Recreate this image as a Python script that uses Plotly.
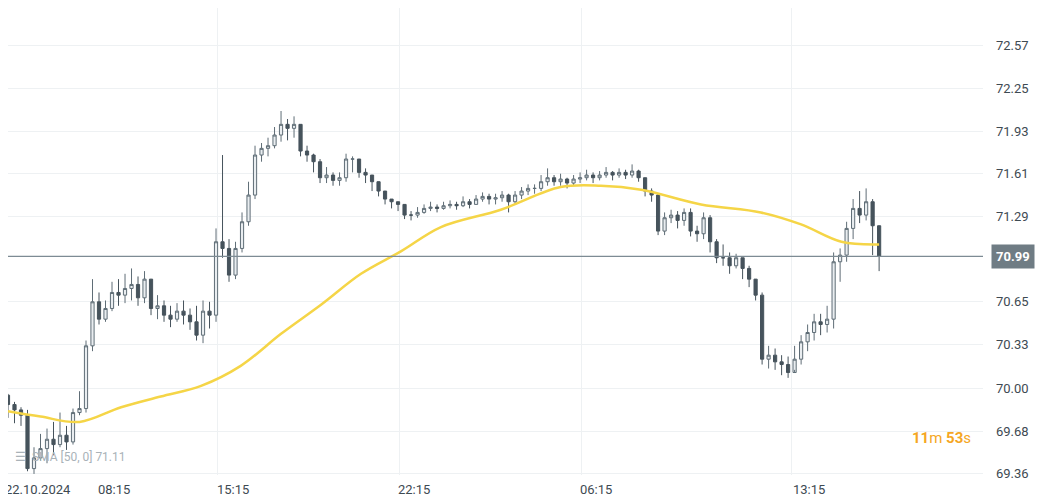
import plotly.graph_objects as go

close = [69.88,69.84,69.80,69.40,69.48,69.55,69.62,69.58,69.65,69.60,
         69.82,69.85,70.32,70.65,70.52,70.60,70.72,70.70,70.75,70.78,
         70.68,70.82,70.60,70.62,70.55,70.52,70.58,70.55,70.50,70.40,
         70.58,70.55,71.10,71.05,70.85,71.05,71.25,71.45,71.75,71.80,
         71.82,71.90,71.98,71.95,71.98,71.78,71.75,71.70,71.58,71.60,
         71.56,71.58,71.72,71.72,71.62,71.60,71.55,71.48,71.42,71.40,
         71.38,71.30,71.30,71.32,71.35,71.36,71.35,71.37,71.38,71.37,
         71.40,71.38,71.42,71.44,71.42,71.43,71.45,71.40,71.45,71.48,
         71.50,71.50,71.55,71.58,71.55,71.57,71.54,71.57,71.58,71.60,
         71.58,71.60,71.62,71.60,71.62,71.60,71.63,71.58,71.48,71.45,
         71.18,71.28,71.30,71.26,71.32,71.18,71.16,71.28,71.10,70.98,
         70.98,70.92,70.98,70.90,70.82,70.70,70.22,70.25,70.20,70.18,
         70.12,70.22,70.35,70.42,70.50,70.48,70.52,70.95,71.00,71.20,
         71.35,71.30,71.40,71.22,70.99]
first_open = 69.95
high = [69.96,69.90,69.86,69.84,69.56,69.66,69.70,69.75,69.82,69.72,
        69.85,69.98,70.36,70.82,70.72,70.66,70.80,70.82,70.86,70.90,
        70.84,70.88,70.78,70.70,70.66,70.62,70.64,70.66,70.60,70.62,
        70.66,70.65,71.20,71.75,71.12,71.10,71.32,71.55,71.82,71.84,
        71.88,71.96,72.08,72.02,72.04,71.98,71.82,71.76,71.72,71.66,
        71.62,71.62,71.76,71.74,71.68,71.65,71.58,71.52,71.45,71.42,
        71.40,71.36,71.33,71.36,71.38,71.40,71.38,71.40,71.41,71.40,
        71.44,71.42,71.45,71.47,71.46,71.46,71.48,71.46,71.48,71.51,
        71.53,71.53,71.60,71.65,71.60,71.61,71.58,71.60,71.62,71.64,
        71.62,71.63,71.66,71.63,71.65,71.64,71.68,71.64,71.58,71.50,
        71.46,71.32,71.34,71.33,71.35,71.35,71.22,71.32,71.30,71.12,
        71.08,71.02,71.01,70.98,70.92,70.80,70.72,70.32,70.30,70.25,
        70.24,70.32,70.40,70.48,70.56,70.56,70.62,71.02,71.05,71.25,
        71.42,71.48,71.50,71.42,71.20]
low = [69.78,69.74,69.72,69.38,69.36,69.46,69.44,69.50,69.56,69.54,
       69.58,69.80,69.82,70.28,70.48,70.50,70.58,70.62,70.64,70.66,
       70.62,70.64,70.55,70.52,70.50,70.46,70.50,70.48,70.44,70.36,
       70.34,70.45,70.50,70.98,70.80,70.82,71.02,71.22,71.42,71.70,
       71.74,71.80,71.85,71.86,71.88,71.74,71.70,71.62,71.54,71.54,
       71.52,71.52,71.55,71.62,71.58,71.54,71.48,71.44,71.38,71.35,
       71.33,71.27,71.26,71.28,71.31,71.33,71.32,71.34,71.35,71.34,
       71.36,71.35,71.38,71.40,71.38,71.38,71.40,71.32,71.38,71.42,
       71.45,71.46,71.48,71.52,71.52,71.52,71.50,71.52,71.54,71.56,
       71.54,71.56,71.58,71.56,71.58,71.57,71.58,71.55,71.44,71.40,
       71.15,71.15,71.24,71.20,71.22,71.14,71.10,71.12,71.02,70.94,
       70.92,70.86,70.90,70.82,70.76,70.66,70.18,70.15,70.14,70.10,
       70.08,70.14,70.18,70.28,70.36,70.40,70.42,70.45,70.80,70.95,
       71.12,71.24,71.26,71.00,70.88]
opens = [first_open] + close[:-1]
idx = list(range(len(close)))

sma_idx = [0, 5, 11, 17.4, 23.5, 29.7, 35.8, 42, 48.2, 54.3, 60.5, 66.6, 75.8, 85, 91.2, 97.4, 106.6, 115.8, 122, 128.2, 134]
sma_val = [69.83, 69.79, 69.75, 69.86, 69.94, 70.02, 70.17, 70.41, 70.63, 70.86, 71.03, 71.21, 71.34, 71.51, 71.52, 71.49, 71.38, 71.32, 71.23, 71.10, 71.08]

price_ticks = [72.57, 72.25, 71.93, 71.61, 71.29, 70.65, 70.33, 70.00, 69.68, 69.36]
last_price = 70.99
grid_idx = [32.3, 60.2, 88.2, 120.5]
time_labels = ["08:15", "15:15", "22:15", "06:15", "13:15"]
time_label_idx = [16.3, 34.6, 62.5, 90.5, 123.2]
date_label = "22.10.2024"

fig = go.Figure()
fig.add_trace(go.Candlestick(
    x=idx, open=opens, high=high, low=low, close=close,
    increasing=dict(line=dict(color="#5f6d76", width=1), fillcolor="#e9edf0"),
    decreasing=dict(line=dict(color="#46535c", width=1), fillcolor="#46535c"),
    whiskerwidth=0, showlegend=False, hoverinfo="skip"))
fig.add_trace(go.Scatter(x=sma_idx, y=sma_val, mode="lines", line=dict(color="#f5d547", width=2.5, shape="spline"),
                         showlegend=False, hoverinfo="skip"))
fig.add_hline(y=last_price, line=dict(color="#7d8b94", width=1.2))

fig.add_annotation(x=1, xref="paper", xanchor="left", y=last_price, yref="y", text=f"<b>{last_price:.2f}</b>",
                   showarrow=False, bgcolor="#6f7c84", font=dict(color="white", size=13, family="Roboto"),
                   borderpad=4, xshift=8)
for t, xi in zip(time_labels, time_label_idx):
    fig.add_annotation(x=xi, y=-0.01, xref="x", yref="paper", yanchor="top", text=t, showarrow=False,
                       font=dict(size=13, color="#3e4a52", family="Roboto"))
fig.add_annotation(x=4.6, y=-0.01, xref="x", yref="paper", yanchor="top", text=date_label, showarrow=False,
                   font=dict(size=13, color="#3e4a52", family="Roboto"))
fig.add_annotation(x=0.005, y=0.02, xref="paper", yref="paper", xanchor="left", yanchor="bottom",
                   text="☰  SMA [50, 0] 71.11", showarrow=False, font=dict(size=12, color="#a9b2b8", family="Roboto"))
fig.add_annotation(x=0.99, y=69.63, xref="paper", yref="y", xanchor="right",
                   text="<b>11</b>m <b>53</b>s", showarrow=False, font=dict(size=15, color="#f5a623", family="Roboto"))

fig.update_layout(
    width=1057, height=499, margin=dict(l=0, r=82, t=0, b=32),
    plot_bgcolor="white", paper_bgcolor="white",
    xaxis=dict(range=[0.0, 149.98], rangeslider=dict(visible=False), tickvals=grid_idx, showticklabels=False,
               showgrid=True, gridcolor="#eef1f3", zeroline=False, ticks=""),
    yaxis=dict(range=[69.352, 72.852], side="right", tickvals=price_ticks, ticktext=[f"{v:.2f}" for v in price_ticks],
               showgrid=True, gridcolor="#eef1f3", zeroline=False, ticks="", ticklabelstandoff=12,
               tickfont=dict(size=13, color="#3e4a52", family="Roboto")),
)
fig.write_html("out.html")
